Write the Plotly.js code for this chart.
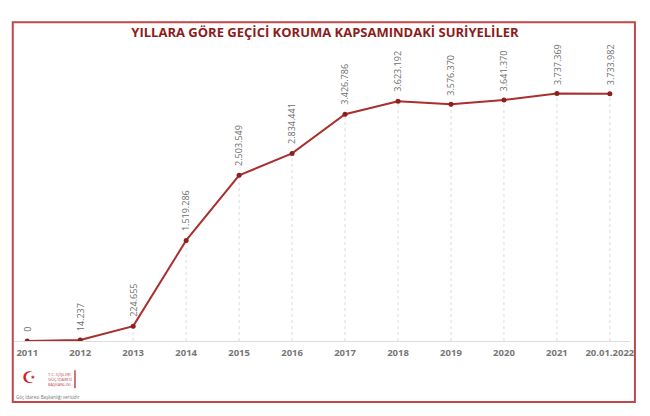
<!DOCTYPE html>
<html>
<head>
<meta charset="utf-8">
<script src="https://cdn.plot.ly/plotly-3.0.1.min.js"></script>
<style>
  html, body { margin: 0; padding: 0; background: #fff; }
  #plot { width: 650px; height: 416px; }
</style>
</head>
<body>
<div id="plot"></div>
<script>
// yıllar ve kişi sayıları
var years = ['2011', '2012', '2013', '2014', '2015', '2016', '2017', '2018', '2019', '2020', '2021', '20.01.2022'];
var people = [0, 14237, 224655, 1519286, 2503549, 2834441, 3426786, 3623192, 3576370, 3641370, 3737369, 3733982];

var red = '#a8302f';

function fmt(n) {
    return String(n).replace(/\B(?=(\d{3})+(?!\d))/g, '.');
}

var data = [
    {
        type: 'scatter',
        mode: 'lines+markers',
        x: years,
        y: people,
        line: {color: red, width: 2},
        marker: {color: '#8e1f1f', size: 5},
        hoverinfo: 'skip'
    }
];

// dikey kesikli çizgiler (nokta -> eksen); kategori eksende sıra numarası ile
var shapes = years.map(function (yr, i) {
    return {
        type: 'line', xref: 'x', yref: 'y',
        x0: i, x1: i, y0: 0, y1: people[i],
        line: {color: '#dcdcdc', width: 1, dash: 'dot'},
        layer: 'below'
    };
});
// dış çerçeve
shapes.push({
    type: 'rect', xref: 'paper', yref: 'paper',
    x0: -0.002, x1: 1.008, y0: -0.219, y1: 1.147,
    line: {color: '#c0474a', width: 2}
});
// logo çubuğu
shapes.push({
    type: 'line', xref: 'paper', yref: 'paper',
    x0: 0.099, x1: 0.099, y0: -0.105, y1: -0.17,
    line: {color: '#c0474a', width: 1.5}
});

var annotations = years.map(function (yr, i) {
    return {
        x: i, y: people[i], xref: 'x', yref: 'y',
        text: fmt(people[i]), showarrow: false,
        textangle: -90, xanchor: 'center', yanchor: 'bottom',
        yshift: 7,
        font: {family: 'Open Sans, sans-serif', size: 9, color: '#6e6e6e'}
    };
});
annotations.push({
    xref: 'paper', yref: 'paper', x: 0.01, y: -0.133,
    text: '☪', showarrow: false, xanchor: 'left', yanchor: 'middle',
    font: {family: 'DejaVu Sans', size: 16, color: '#d0202a'}
});
annotations.push({
    xref: 'paper', yref: 'paper', x: 0.052, y: -0.137,
    text: 'T.C. İÇİŞLERİ<br>GÖÇ İDARESİ<br>BAŞKANLIĞI', showarrow: false,
    xanchor: 'left', yanchor: 'middle', align: 'left',
    font: {family: 'Open Sans, sans-serif', size: 4, color: '#c0474a'}
});
annotations.push({
    xref: 'paper', yref: 'paper', x: 0.0, y: -0.2,
    text: 'Göç İdaresi Başkanlığı verisidir', showarrow: false,
    xanchor: 'left', yanchor: 'middle',
    font: {family: 'Open Sans, sans-serif', size: 4.5, color: '#777'}
});

var layout = {
    width: 650,
    height: 416,
    margin: {l: 14, r: 20, t: 63, b: 75},
    paper_bgcolor: '#fff',
    plot_bgcolor: '#fff',
    showlegend: false,
    title: {
        text: '<b>YILLARA GÖRE GEÇİCİ KORUMA KAPSAMINDAKİ SURİYELİLER</b>',
        x: 0.5, xanchor: 'center', y: 0.922, yanchor: 'middle',
        font: {family: 'Open Sans, sans-serif', size: 13, color: '#8e1b1b'}
    },
    xaxis: {
        type: 'category',
        range: [-0.25, 11.38],
        showgrid: false,
        showline: true, linecolor: '#dcdcdc', linewidth: 1,
        ticks: '',
        ticklabelstandoff: 3,
        tickfont: {family: 'Open Sans, sans-serif', size: 9.5, color: '#777777', weight: 'bold'},
        zeroline: false,
        fixedrange: true
    },
    yaxis: {
        range: [0, 4200000],
        visible: false,
        showgrid: false,
        zeroline: false,
        fixedrange: true
    },
    shapes: shapes,
    annotations: annotations
};

Plotly.newPlot('plot', data, layout, {displayModeBar: false, staticPlot: true});
</script>
</body>
</html>
